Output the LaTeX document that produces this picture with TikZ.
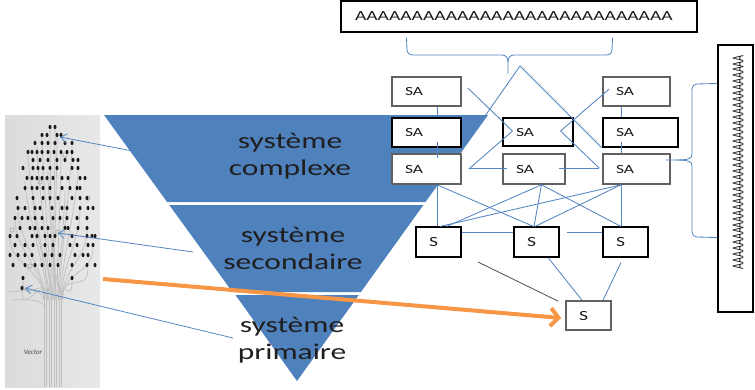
\documentclass[tikz,border=0pt]{standalone}
\usepackage{fontspec}
\setmainfont{Carlito}
\newfontfamily\wfont[FakeStretch=1.4]{Carlito}
\usetikzlibrary{arrows.meta,calc}
\definecolor{tri}{HTML}{4F81BD}
\definecolor{link}{HTML}{5485C2}
\definecolor{orng}{HTML}{F79646}

\begin{document}
\begin{tikzpicture}[x=1pt,y=-1pt,
  band/.style={fill=tri,draw=none},
  bandtext/.style={font=\wfont\fontsize{22.5}{27}\selectfont,text=black!88,align=center,inner sep=0pt},
  boxthick/.style={draw=black!62,line width=1.6pt,fill=white},
  boxthin/.style={draw=black,line width=1.1pt,fill=white},
  lbl/.style={font=\wfont\fontsize{12.5}{14}\selectfont,text=black!90,align=left,inner xsep=13pt,inner ysep=0pt},
  sabox/.style={lbl,text width=#1},
  link/.style={draw=link,line width=0.85pt},
  treearrow/.style={draw=link,line width=0.8pt,-{Straight Barb[length=6pt,width=9pt]}},
  circuit/.style={draw=black!25,line width=0.7pt},
  bigarrow/.style={draw=orng,line width=4pt,-{Straight Barb[length=8pt,width=18pt]}}
]
\useasboundingbox (0,0) rectangle (755,389);

% ---------- circuit tree panel ----------
\node[draw=none,inner sep=0pt,minimum width=95pt,minimum height=272pt,
  left color=black!14,middle color=black!4,right color=black!9] (panel) at (52.5,251) {};
\foreach \tx in {44,46.5,49,51.5,54,56.5,59,61.5}
  \draw[circuit] (\tx,387) -- (\tx,300);
\foreach \tx/\dx/\dy in {44/15/218, 44.5/10/235, 45/18/208, 46/22/288, 47/25/178, 48/28/152,
  49/33/198, 50/37/143, 51/42/135, 52/50/127, 53/55/127, 54/57/135, 55/48/168, 56/53/218,
  57/61/152, 58/65/188, 59/72/143, 60/78/168, 61/80/208, 62/87/228, 62.5/93/245, 61.5/88/265,
  47.5/23/278, 58.5/72/278, 52/45/245, 55/58/255}
  \draw[circuit] (\tx,300) .. controls (\tx,270) and (\dx,{\dy+30}) .. (\dx,{\dy+3});
\draw[circuit] (44,300) .. controls (40,285) and (20,292) .. (8,292);
\draw[circuit] (44,305) .. controls (38,298) and (20,300) .. (12,300);
\foreach \cx/\cy in {65/155, 40/182, 88/198, 12/230, 58/232, 30/266}
  \draw[black!35,line width=0.6pt] (\cx,\cy) circle[radius=2.2pt];
\foreach \yy/\xs in {127/{50,55}, 135/{42,47,57,61}, 143/{35,42,48,55,65,72},
  152/{28,32,37,42,48,54,61,67,72}, 160/{33,40,48,57,65,73,78}, 168/{23,33,38,43,50,57,72,78},
  178/{27,32,37,42,47,53,62,68,80,85}, 188/{25,32,37,43,50,62,70,77,80},
  198/{17,33,43,50,58,72,80,87}, 208/{18,25,35,40,52,62,67,80,88,93},
  218/{15,22,28,35,42,53,60,67,77,87}, 228/{20,30,35,42,48,65,68,78,87},
  236/{10,17,32,37,45,50,55,72,87,92,95}, 245/{15,25,33,45,53,70,77,88,93},
  255/{10,18,25,32,45,52,60,75,83,88}, 265/{13,25,35,42,50,58,72,87,95},
  278/{23,72}, 288/{22}}
  \foreach \xx in \xs
    \fill[black!90] (\xx,\yy) ellipse[x radius=1.5pt,y radius=2.2pt];
\node[font=\fontsize{7}{7}\selectfont\itshape,text=black!70,inner sep=0pt] (logo) at (33,352) {Vector};

% ---------- inverted pyramid ----------
\fill[band] (104,115) -- (488,115) -- (425.5,202) -- (167.1,202) -- cycle;
\fill[band] (169.3,205) -- (423.4,205) -- (360.9,292) -- (232.4,292) -- cycle;
\fill[band] (235.5,295) -- (358.8,295) -- (297,381) -- cycle;
\node[bandtext] (complexe) at (290,156) {système\\complexe};
\node[bandtext] (secondaire) at (293,248) {système\\secondaire};
\node[bandtext] (primaire) at (292,340) {système\\primaire};

% ---------- top and side boxes ----------
\node[boxthin,lbl,font=\wfont\fontsize{14}{16}\selectfont,inner xsep=14pt,text width=328pt,minimum height=31pt] (tbox) at (519,16.5) {AAAAAAAAAAAAAAAAAAAAAAAAAAAA};
\node[boxthin,minimum width=35pt,minimum height=267pt,inner sep=0pt] (rbox) at (735.5,178.5) {};
\node[rotate=90,inner sep=0pt,font=\fontsize{10.3}{12}\selectfont,text=black!90] (rtext) at (738,162.5) {\scalebox{1}[1.6]{AAAAAAAAAAAAAAAAAAAAAAAAAAAAAAAAAAAA}};

% ---------- SA boxes ----------
\node[boxthick,sabox=43pt,minimum height=29pt] (sa1) at (426.5,91.5) {SA};
\node[boxthin,sabox=43pt,minimum height=29pt] (sa2) at (426.5,132.5) {SA};
\node[boxthick,sabox=43pt,minimum height=30pt] (sa3) at (426.5,169) {SA};
\node[boxthin,sabox=44pt,minimum height=28pt] (sa4) at (538,132) {SA};
\node[boxthick,sabox=36pt,minimum height=30pt] (sa5) at (534,169) {SA};
\node[boxthick,sabox=41pt,minimum height=29pt] (sa6) at (636.5,91.5) {SA};
\node[boxthin,sabox=49pt,minimum height=29pt] (sa7) at (640.5,132.5) {SA};
\node[boxthick,sabox=41pt,minimum height=30pt] (sa8) at (636.5,169) {SA};

% ---------- S boxes ----------
\node[boxthin,sabox=19pt,minimum height=30pt,font=\wfont\fontsize{14}{16}\selectfont] (s1) at (438.5,242) {S};
\node[boxthin,sabox=19pt,minimum height=30pt,font=\wfont\fontsize{14}{16}\selectfont] (s2) at (536.5,242) {S};
\node[boxthin,sabox=19pt,minimum height=30pt,font=\wfont\fontsize{14}{16}\selectfont] (s3) at (625.5,242) {S};
\node[boxthick,sabox=19pt,minimum height=29pt,font=\wfont\fontsize{14}{16}\selectfont] (s4) at (588.5,315.5) {S};

% ---------- free ends ----------
\coordinate (apex) at (520,66);
\coordinate (g0) at (478,262);
\coordinate (t1) at (200,164);
\coordinate (t2) at (193,252);
\coordinate (t3) at (233,338);
\coordinate (o0) at (103,279);

% ---------- SA links ----------
\draw[link] ([xshift=10.5pt]sa1.south) -- ([xshift=10.5pt]sa2.north);
\draw[link] ([xshift=10.5pt,yshift=6pt]sa2.south) -- ([xshift=10.5pt,yshift=-5pt]sa3.north);
\draw[link] ([xshift=-15.5pt]sa6.south) -- ([xshift=-19.5pt]sa7.north);
\draw[link] ([xshift=-19.5pt,yshift=6pt]sa7.south) -- ([xshift=-15.5pt]sa8.north);
\draw[link] ([xshift=7pt,yshift=-7pt]sa2.east) -- (apex) -- ([xshift=-1pt]sa7.south west);
\draw[link] ([xshift=6pt,yshift=3.5pt]sa1.east) -- ([xshift=10pt,yshift=1pt]sa4.west);
\draw[link] ([xshift=7pt]sa3.east) -- ([xshift=10pt,yshift=1pt]sa4.west);
\draw[link] ([xshift=7pt,yshift=2.5pt]sa6.west) -- ([xshift=-13pt,yshift=1pt]sa4.east);
\draw[link] ([xshift=-3pt,yshift=1pt]sa8.west) -- ([xshift=-13pt,yshift=1pt]sa4.east);
\draw[link] ([xshift=7pt,yshift=1pt]sa3.east) -- ([xshift=5pt,yshift=1pt]sa5.west);
\draw[link] ([xshift=-7pt,yshift=1pt]sa5.east) -- ([xshift=-3pt,yshift=1pt]sa8.west);

% ---------- SA to S links ----------
\draw[link] ([xshift=10.5pt]sa3.south) -- ([xshift=-1.5pt]s1.north);
\draw[link] ([xshift=10.5pt]sa3.south) -- ([xshift=-3pt]s2.north);
\draw[link] ([xshift=7.5pt]sa5.south) -- ([xshift=8pt]s1.north);
\draw[link] ([xshift=7.5pt]sa5.south) -- ([xshift=-2.5pt]s2.north);
\draw[link] ([xshift=7.5pt]sa5.south) -- ([xshift=-4.5pt]s3.north);
\draw[link] ([xshift=-15.5pt]sa8.south) -- ([xshift=1.5pt]s1.north);
\draw[link] ([xshift=-15.5pt]sa8.south) -- ([xshift=-1.5pt]s2.north);
\draw[link] ([xshift=-15.5pt]sa8.south) -- ([xshift=-4.5pt]s3.north);
\draw[link] ([yshift=10pt]s1.east) -- ([yshift=10pt]s2.west);
\draw[link] ([xshift=7pt,yshift=10pt]s2.east) -- ([yshift=10pt]s3.west);
\draw[link] ([xshift=11.5pt]s2.south) -- ([xshift=-6.5pt]s4.north);
\draw[link] ([xshift=-4.5pt,yshift=-5pt]s3.south) -- ([xshift=14.5pt]s4.north);
\draw[black!70,line width=0.8pt] (g0) -- ([xshift=-7pt,yshift=-1pt]s4.north west);

% ---------- braces ----------
\draw[link] ([xshift=66pt,yshift=-5pt]tbox.south west) -- (407,49)
  .. controls (407,53) and (409,55) .. (413,55) -- (502,55)
  .. controls (506,55) and (508,58) .. (508,62) -- (508,74);
\draw[link] ([xshift=-85pt,yshift=-5pt]tbox.south east) -- (612,49)
  .. controls (612,53) and (610,55) .. (606,55) -- (514,55)
  .. controls (510,55) and (508,58) .. (508,62);
\draw[link] ([yshift=-39pt]rbox.north west) -- (697,84)
  .. controls (694,84) and (692,86) .. (692,89) -- (692,154)
  .. controls (692,158) and (690,160) .. (676,160)
  -- ([xshift=-5pt,yshift=9pt]sa8.east);
\draw[link] ([yshift=75pt]rbox.south west) -- (697,237)
  .. controls (694,237) and (692,235) .. (692,232) -- (692,166)
  .. controls (692,162) and (690,160) .. (676,160);

% ---------- arrows to the tree ----------
\draw[treearrow] (t1) -- (60,137);
\draw[treearrow] (t2) -- (58,233);
\draw[treearrow] (t3) -- (25,288);

% ---------- main arrow ----------
\draw[bigarrow] (o0) -- ([xshift=-4pt,yshift=-2.5pt]s4.west);
\end{tikzpicture}
\end{document}
